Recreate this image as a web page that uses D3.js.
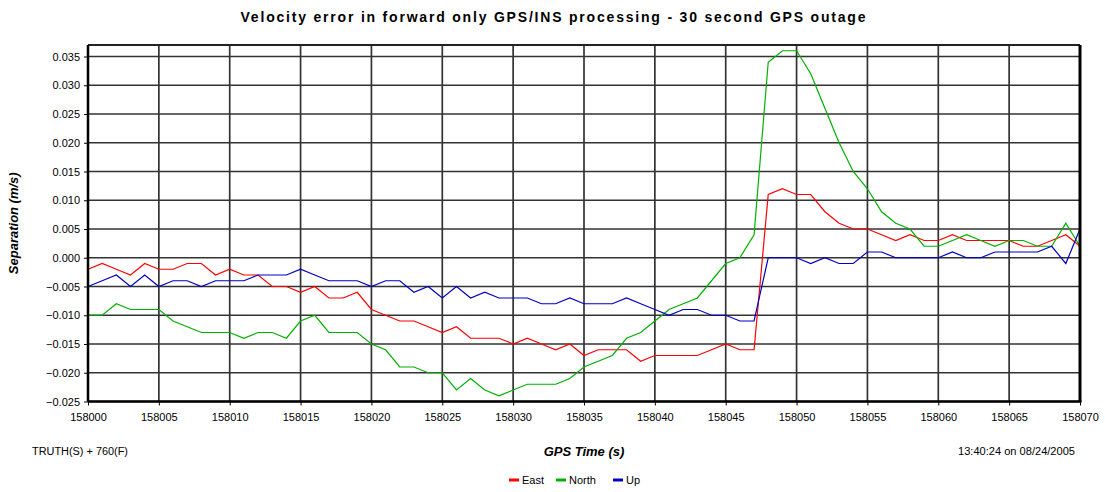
<!DOCTYPE html>
<html lang="en">
<head>
  <meta charset="UTF-8" />
  <title>Velocity error - 30 second GPS outage</title>
  <script src="https://d3js.org/d3.v7.min.js"></script>
  <style>
    body { margin: 0; background: #fff; }
    svg { display: block; font-family: 'Liberation Sans', Arial, sans-serif; }
    .grid line { stroke: #333; stroke-width: 1.7px; }
    .tick text { font-size: 11px; fill: #000; }
  </style>
</head>
<body>
  <svg id="chart" width="1105" height="492"></svg>

  <script>
    // GPS time, one sample per second
    const times = d3.range(158000, 158071);

    // Separation values (m/s)
    const east = [
      -0.002, -0.001, -0.002, -0.003, -0.001, -0.002, -0.002, -0.001, -0.001, -0.003,
      -0.002, -0.003, -0.003, -0.005, -0.005, -0.006, -0.005, -0.007, -0.007, -0.006,
      -0.009, -0.010, -0.011, -0.011, -0.012, -0.013, -0.012, -0.014, -0.014, -0.014,
      -0.015, -0.014, -0.015, -0.016, -0.015, -0.017, -0.016, -0.016, -0.016, -0.018,
      -0.017, -0.017, -0.017, -0.017, -0.016, -0.015, -0.016, -0.016, 0.011, 0.012,
      0.011, 0.011, 0.008, 0.006, 0.005, 0.005, 0.004, 0.003, 0.004, 0.003,
      0.003, 0.004, 0.003, 0.003, 0.003, 0.003, 0.002, 0.002, 0.003, 0.004, 0.002
    ];
    const north = [
      -0.010, -0.010, -0.008, -0.009, -0.009, -0.009, -0.011, -0.012, -0.013, -0.013,
      -0.013, -0.014, -0.013, -0.013, -0.014, -0.011, -0.010, -0.013, -0.013, -0.013,
      -0.015, -0.016, -0.019, -0.019, -0.020, -0.020, -0.023, -0.021, -0.023, -0.024,
      -0.023, -0.022, -0.022, -0.022, -0.021, -0.019, -0.018, -0.017, -0.014, -0.013,
      -0.011, -0.009, -0.008, -0.007, -0.004, -0.001, 0.000, 0.004, 0.034, 0.036,
      0.036, 0.032, 0.026, 0.020, 0.015, 0.012, 0.008, 0.006, 0.005, 0.002,
      0.002, 0.003, 0.004, 0.003, 0.002, 0.003, 0.003, 0.002, 0.002, 0.006, 0.002
    ];
    const up = [
      -0.005, -0.004, -0.003, -0.005, -0.003, -0.005, -0.004, -0.004, -0.005, -0.004,
      -0.004, -0.004, -0.003, -0.003, -0.003, -0.002, -0.003, -0.004, -0.004, -0.004,
      -0.005, -0.004, -0.004, -0.006, -0.005, -0.007, -0.005, -0.007, -0.006, -0.007,
      -0.007, -0.007, -0.008, -0.008, -0.007, -0.008, -0.008, -0.008, -0.007, -0.008,
      -0.009, -0.010, -0.009, -0.009, -0.010, -0.010, -0.011, -0.011, 0.000, 0.000,
      0.000, -0.001, 0.000, -0.001, -0.001, 0.001, 0.001, 0.000, 0.000, 0.000,
      0.000, 0.001, 0.000, 0.000, 0.001, 0.001, 0.001, 0.001, 0.002, -0.001, 0.005
    ];

    const seriesNames = ["East", "North", "Up"];
    const seriesColors = ["#ff0000", "#00b000", "#0000c0"];
    const xTicks = d3.range(158000, 158071, 5);
    const yTicks = [-0.025, -0.020, -0.015, -0.010, -0.005, 0, 0.005, 0.010, 0.015, 0.020, 0.025, 0.030, 0.035];

    const svg = d3.select("#chart");
    const plotLeft = 88, plotRight = 1080, plotTop = 45, plotBottom = 401.5;

    const x = d3.scaleLinear().domain([158000, 158070]).range([plotLeft, plotRight]);
    const y = d3.scaleLinear().domain([-0.025, 0.037]).range([plotBottom, plotTop]);

    // grid
    const grid = svg.append("g").attr("class", "grid");
    grid.selectAll(".v").data(xTicks).enter().append("line")
      .attr("x1", d => x(d)).attr("x2", d => x(d))
      .attr("y1", plotTop).attr("y2", plotBottom);
    grid.selectAll(".h").data(yTicks).enter().append("line")
      .attr("x1", plotLeft).attr("x2", plotRight)
      .attr("y1", d => y(d)).attr("y2", d => y(d));

    // axes
    svg.append("g")
      .attr("transform", `translate(0,${plotBottom})`)
      .call(d3.axisBottom(x).tickValues(xTicks).tickFormat(d3.format("d")).tickSize(4).tickPadding(8))
      .call(g => g.select(".domain").remove())
      .call(g => g.selectAll(".tick line").attr("stroke", "#000"));

    svg.append("g")
      .attr("transform", `translate(${plotLeft},0)`)
      .call(d3.axisLeft(y).tickValues(yTicks).tickFormat(d3.format(".3f")).tickSize(4).tickPadding(4))
      .call(g => g.select(".domain").remove())
      .call(g => g.selectAll(".tick line").attr("stroke", "#000"));

    // lines
    const line = d3.line().x((d, i) => x(times[i])).y(d => y(d));
    [east, north, up].forEach((vals, k) => {
      svg.append("path")
        .datum(vals)
        .attr("fill", "none")
        .attr("stroke", seriesColors[k])
        .attr("stroke-width", 1.2)
        .attr("d", line);
    });

    // frame
    svg.append("line").attr("x1", plotLeft).attr("x2", plotRight).attr("y1", plotTop).attr("y2", plotTop)
      .attr("stroke", "#222").attr("stroke-width", 2);
    svg.append("line").attr("x1", plotLeft).attr("x2", plotRight + 1.5).attr("y1", plotBottom).attr("y2", plotBottom)
      .attr("stroke", "#000").attr("stroke-width", 2.5);
    svg.append("line").attr("x1", plotLeft).attr("x2", plotLeft).attr("y1", plotTop).attr("y2", plotBottom)
      .attr("stroke", "#000").attr("stroke-width", 2.5);
    svg.append("line").attr("x1", plotRight).attr("x2", plotRight).attr("y1", plotTop).attr("y2", plotBottom)
      .attr("stroke", "#000").attr("stroke-width", 3);

    // texts
    svg.append("text")
      .attr("x", 553).attr("y", 22)
      .attr("text-anchor", "middle")
      .attr("textLength", 625).attr("lengthAdjust", "spacing")
      .style("font-size", "14px").style("font-weight", "bold")
      .text("Velocity error in forward only GPS/INS processing - 30 second GPS outage");

    svg.append("text")
      .attr("transform", `translate(18,${(plotTop + plotBottom) / 2}) rotate(-90)`)
      .attr("text-anchor", "middle")
      .style("font-size", "13px").style("font-weight", "bold").style("font-style", "italic")
      .text("Separation (m/s)");

    svg.append("text")
      .attr("x", (plotLeft + plotRight) / 2).attr("y", 456)
      .attr("text-anchor", "middle")
      .style("font-size", "13px").style("font-weight", "bold").style("font-style", "italic")
      .text("GPS Time (s)");

    svg.append("text")
      .attr("x", 32).attr("y", 455)
      .attr("textLength", 96).attr("lengthAdjust", "spacingAndGlyphs")
      .style("font-size", "10px")
      .text("TRUTH(S) + 760(F)");

    svg.append("text")
      .attr("x", 958).attr("y", 455)
      .attr("textLength", 117).attr("lengthAdjust", "spacingAndGlyphs")
      .style("font-size", "10px")
      .text("13:40:24 on 08/24/2005");

    // legend
    const legend = svg.append("g").attr("transform", "translate(509,480)");
    const offsets = [0, 47, 104];
    seriesNames.forEach((name, k) => {
      const g = legend.append("g").attr("transform", `translate(${offsets[k]},0)`);
      g.append("line").attr("x1", 0).attr("x2", 10).attr("y1", 0).attr("y2", 0)
        .attr("stroke", seriesColors[k]).attr("stroke-width", 3);
      g.append("text").attr("x", 13).attr("y", 4)
        .style("font-size", "11px").text(name);
    });
  </script>
</body>
</html>
